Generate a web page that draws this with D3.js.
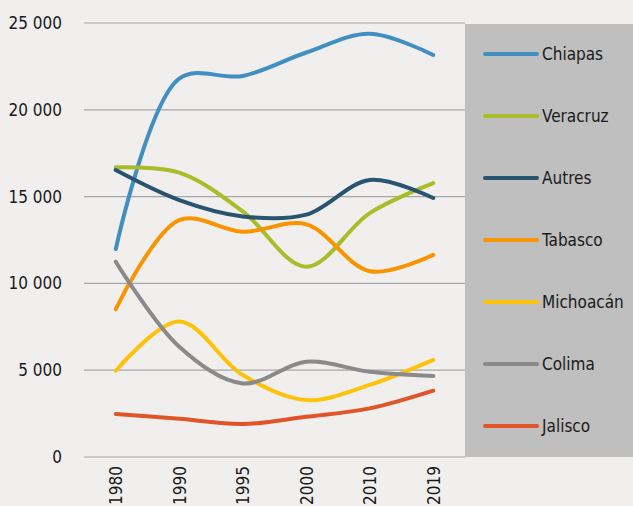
<!DOCTYPE html>
<html>
<head>
<meta charset="utf-8">
<script src="https://cdn.jsdelivr.net/npm/d3@7"></script>
<style>
  body { margin: 0; background: #f0efee; }
  svg { display: block; }
  text { font-family: "DejaVu Sans Condensed", "Liberation Sans Narrow", sans-serif; fill: #1a1a1a; }
</style>
</head>
<body>
<svg id="chart" width="633" height="506"></svg>
<script>
// années et valeurs
const years = ['1980', '1990', '1995', '2000', '2010', '2019'];
const names = ['Chiapas', 'Veracruz', 'Autres', 'Tabasco', 'Michoacán', 'Colima', 'Jalisco'];
const chiapas = [11980, 21800, 21950, 23300, 24380, 23160];
const veracruz = [16690, 16380, 14150, 10960, 14050, 15780];
const autres = [16530, 14800, 13860, 13960, 15960, 14920];
const tabasco = [8520, 13650, 12980, 13400, 10700, 11640];
const michoacan = [4970, 7800, 4720, 3280, 4150, 5590];
const colima = [11250, 6350, 4240, 5490, 4910, 4670];
const jalisco = [2480, 2200, 1900, 2320, 2800, 3820];
const yTicks = [0, 5000, 10000, 15000, 20000, 25000];
const colors = ['#418fc0', '#a8bd28', '#27556f', '#f79400', '#ffc20a', '#8a8a8a', '#e05428'];

const series = [chiapas, veracruz, autres, tabasco, michoacan, colima, jalisco];
const svg = d3.select('#chart');
const fontSize = 17;

let x = d3.scalePoint()
	.domain(years)
	.range([84, 465])
	.padding(0.5);
let y = d3.scaleLinear()
	.domain([0, 25000])
	.range([457, 23]);

// grille
svg.append('g')
	.selectAll('line')
	.data(yTicks)
	.enter()
	.append('line')
	.attr('x1', 84)
	.attr('x2', 465)
	.attr('y1', d => y(d))
	.attr('y2', d => y(d))
	.attr('stroke', '#a6a6a6')
	.attr('stroke-width', 1.2);

// axe y
const fmt = d => d === 0 ? '0' : d3.format(',')(d).replace(',', ' ');
svg.append('g')
	.attr('transform', 'translate(62,0)')
	.call(d3.axisLeft(y).tickValues(yTicks).tickSize(0).tickPadding(0).tickFormat(fmt))
	.call(g => g.select('.domain').remove())
	.selectAll('text')
	.attr('font-size', fontSize)
	.attr('fill', '#1a1a1a')
	.style('font-family', '"DejaVu Sans Condensed", "Liberation Sans Narrow", sans-serif');

// axe x
svg.append('g')
	.attr('transform', 'translate(0,466)')
	.call(d3.axisBottom(x).tickSize(0).tickPadding(0))
	.call(g => g.select('.domain').remove())
	.selectAll('text')
	.attr('transform', 'rotate(-90)')
	.attr('text-anchor', 'end')
	.attr('x', 0)
	.attr('y', 0)
	.attr('dy', '0.35em')
	.attr('font-size', fontSize)
	.attr('fill', '#1a1a1a')
	.style('font-family', '"DejaVu Sans Condensed", "Liberation Sans Narrow", sans-serif');

// courbes
let line = d3.line()
	.x((d, i) => x(years[i]))
	.y(d => y(d))
	.curve(d3.curveCatmullRom.alpha(0.5));

svg.append('g')
	.selectAll('path')
	.data(series)
	.enter()
	.append('path')
	.attr('d', d => line(d))
	.attr('fill', 'none')
	.attr('stroke', (d, i) => colors[i])
	.attr('stroke-width', 4)
	.attr('stroke-linecap', 'round');

// légende
svg.append('rect')
	.attr('x', 465)
	.attr('y', 24)
	.attr('width', 168)
	.attr('height', 433)
	.attr('fill', '#bfbfbf');

let legend = svg.append('g')
	.selectAll('g')
	.data(names)
	.enter()
	.append('g')
	.attr('transform', (d, i) => 'translate(0,' + (54 + i * 62) + ')');
legend.append('line')
	.attr('x1', 485)
	.attr('x2', 537)
	.attr('stroke', (d, i) => colors[i])
	.attr('stroke-width', 4)
	.attr('stroke-linecap', 'round');
legend.append('text')
	.attr('x', 542)
	.attr('dy', '0.35em')
	.attr('font-size', fontSize)
	.text(d => d);
</script>
</body>
</html>
